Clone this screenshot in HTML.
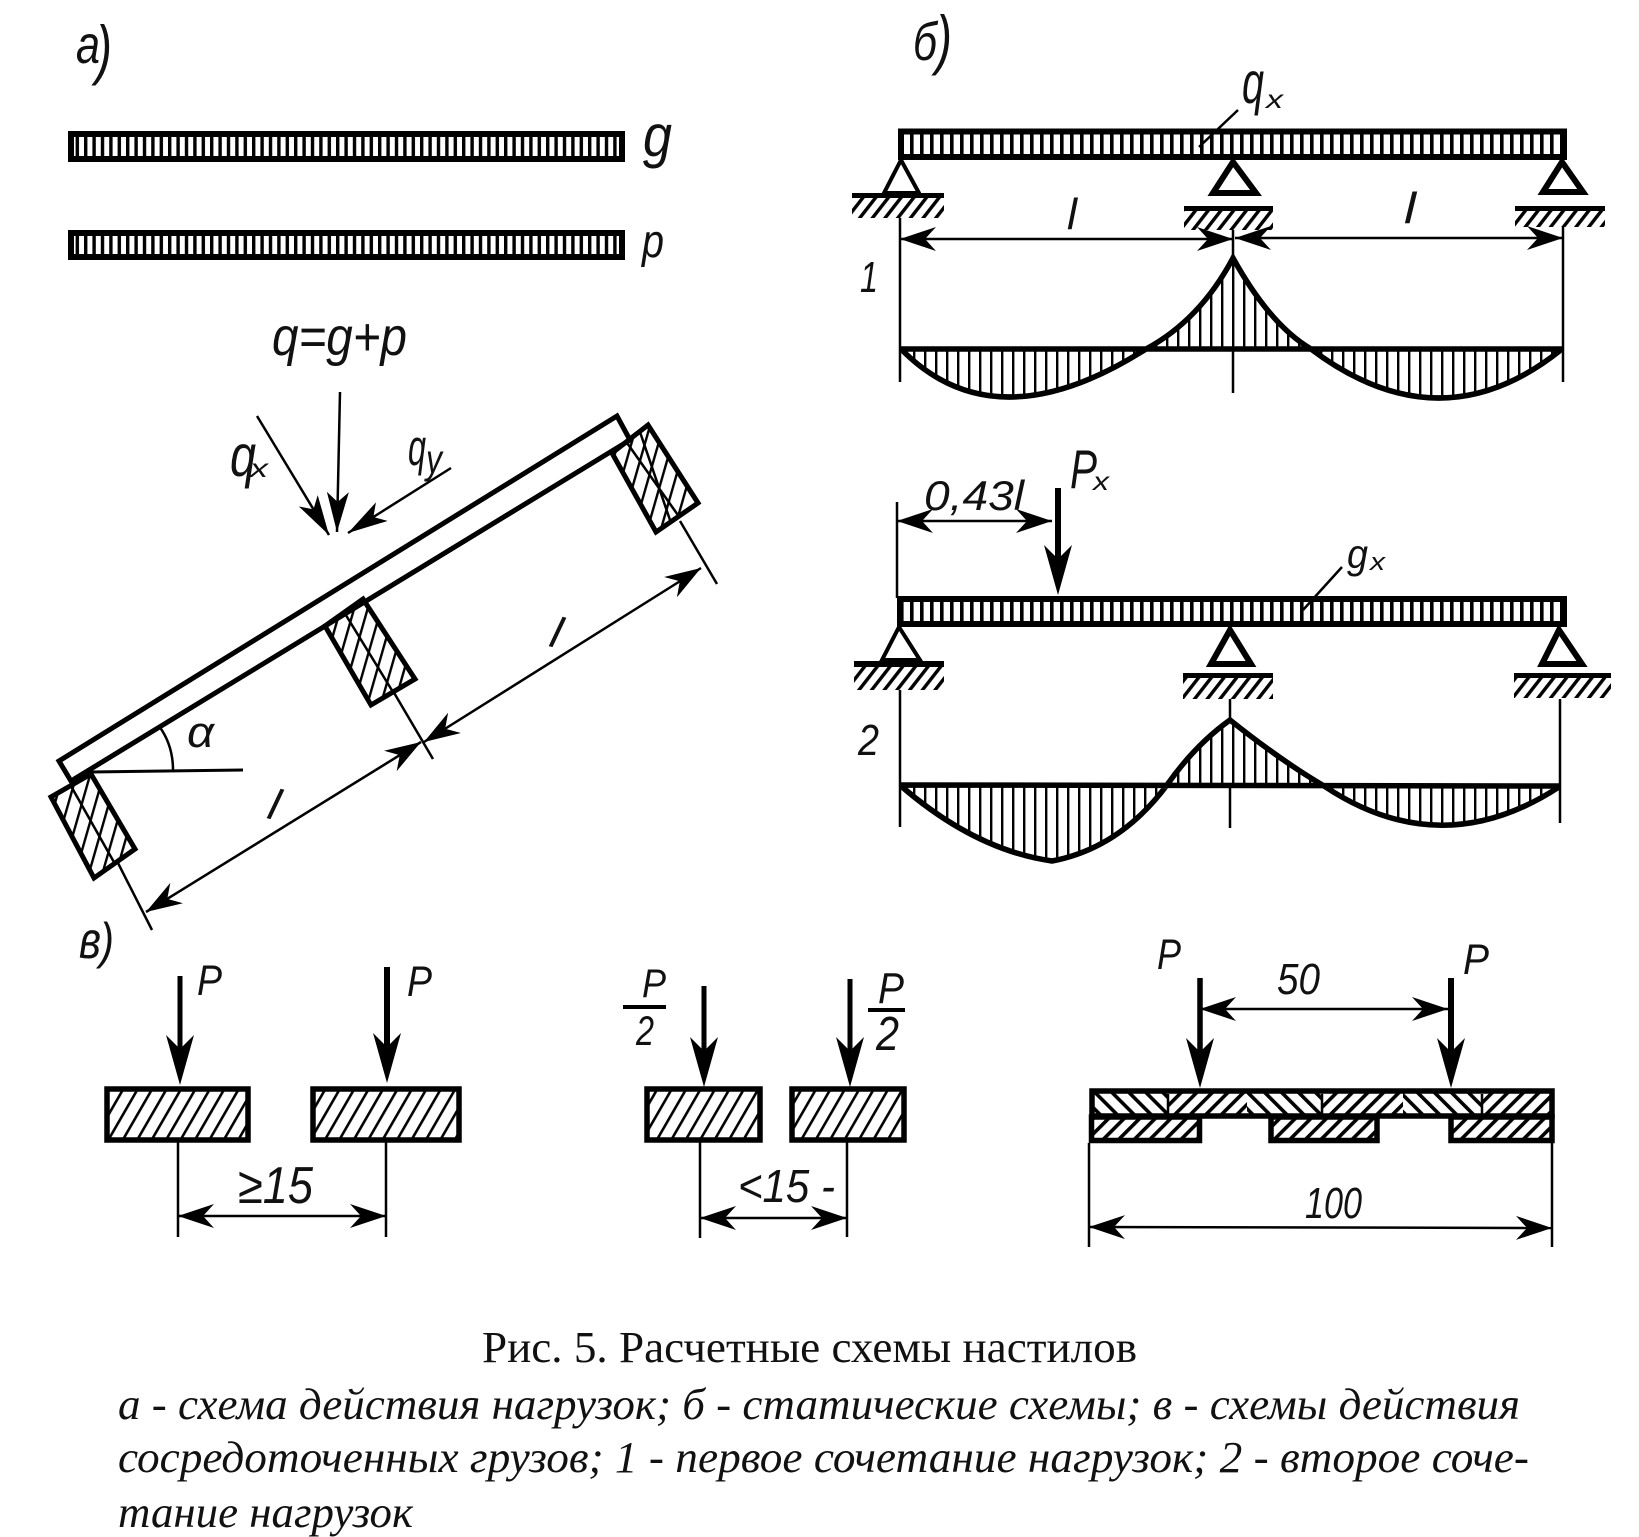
<!DOCTYPE html>
<html lang="ru"><head><meta charset="utf-8"><title>Рис. 5</title>
<style>
html,body{margin:0;padding:0;background:#fff}
svg{display:block}
.h{font-family:"Liberation Sans",sans-serif;font-style:italic;fill:#111}
.c{font-family:"Liberation Serif",serif;font-size:44px;fill:#111}
.l{stroke:#000;fill:none;stroke-width:2.5}
.t{stroke:#000;fill:none;stroke-width:5.5}
.m{stroke:#000;stroke-width:5}
</style></head><body>
<svg width="1639" height="1537" viewBox="0 0 1639 1537" xmlns="http://www.w3.org/2000/svg">
<defs>
<marker id="a" viewBox="0 0 36 24" refX="36" refY="12" markerWidth="36" markerHeight="24" markerUnits="userSpaceOnUse" orient="auto-start-reverse"><path d="M36 12L0 0L11 12L0 24Z"/></marker>
<marker id="b" viewBox="0 0 50 28" refX="30" refY="14" markerWidth="50" markerHeight="28" markerUnits="userSpaceOnUse" orient="auto"><path d="M50 14L0 0L14 14L0 28Z"/></marker>
<marker id="c" viewBox="0 0 40 22" refX="40" refY="11" markerWidth="40" markerHeight="22" markerUnits="userSpaceOnUse" orient="auto"><path d="M40 11L0 0L10 11L0 22Z"/></marker>
<pattern id="t1" width="8.4" height="20" patternUnits="userSpaceOnUse"><rect width="3.4" height="20"/></pattern>
<pattern id="t2" width="10" height="20" patternUnits="userSpaceOnUse"><rect width="3.6" height="20"/></pattern>
<pattern id="v" width="11" height="20" patternUnits="userSpaceOnUse"><rect width="2.4" height="20"/></pattern>
<pattern id="s" width="12.5" height="17" patternUnits="userSpaceOnUse" patternTransform="rotate(30)"><rect width="2.6" height="17"/></pattern>
<pattern id="g" width="10" height="10" patternUnits="userSpaceOnUse" patternTransform="rotate(38)"><rect width="3.4" height="10"/></pattern>
<pattern id="w" width="13" height="13" patternUnits="userSpaceOnUse" patternTransform="rotate(16)"><rect width="2.4" height="13"/></pattern>
<pattern id="f" width="11" height="13" patternUnits="userSpaceOnUse" patternTransform="rotate(45)"><rect width="3.6" height="13"/></pattern>
<pattern id="k" width="12" height="16" patternUnits="userSpaceOnUse" patternTransform="rotate(-45)"><rect width="3.6" height="16"/></pattern>
</defs>
<rect width="1639" height="1537" fill="#fff"/>

<!-- a -->
<text class="h" x="76" y="63" font-size="54" textLength="24" lengthAdjust="spacingAndGlyphs">а</text>
<text class="h" x="96" y="72" font-size="66" textLength="16" lengthAdjust="spacingAndGlyphs">)</text>
<rect x="71" y="134" width="551" height="25" fill="url(#t1)" stroke="#000" stroke-width="6"/>
<rect x="71" y="233" width="551" height="24" fill="url(#t1)" stroke="#000" stroke-width="6"/>
<text class="h" x="643" y="156" font-size="59" textLength="29" lengthAdjust="spacingAndGlyphs">g</text>
<text class="h" x="642" y="257" font-size="47" textLength="22" lengthAdjust="spacingAndGlyphs">p</text>
<text class="h" x="272" y="355" font-size="54" textLength="135" lengthAdjust="spacingAndGlyphs">q=g+p</text>
<text class="h" x="230" y="476" font-size="59" textLength="26" lengthAdjust="spacingAndGlyphs">q</text>
<text class="h" x="250" y="477" font-size="26" textLength="18" lengthAdjust="spacingAndGlyphs">x</text>
<text class="h" x="408" y="465" font-size="51" textLength="18" lengthAdjust="spacingAndGlyphs">q</text>
<text class="h" x="426" y="473" font-size="41" textLength="16" lengthAdjust="spacingAndGlyphs">y</text>
<path class="l" d="M340 392L337 532" marker-end="url(#c)"/>
<path class="l" d="M257 416L329 535" marker-end="url(#c)"/>
<path class="l" d="M451 468L348 533" marker-end="url(#c)"/>

<polygon points="59,761 617,416 630,440 71,781" fill="#fff" stroke="#000" stroke-width="5"/>
<polygon points="648,425 698,503 656,532 612,453" fill="url(#w)" stroke="#000" stroke-width="5"/>
<path class="l" d="M625 440L680 518M640 432L670 520"/>
<polygon points="363,599 415,679 371,705 325,626" fill="url(#w)" stroke="#000" stroke-width="5"/>
<path class="l" d="M344 612L393 692"/>
<polygon points="91,774 135,849 94,878 51,797" fill="url(#w)" stroke="#000" stroke-width="5"/>
<path class="l" d="M71 786L115 864"/>

<path class="l" d="M680 521L717 584M393 691L433 759M118 863L152 930"/>
<path class="l" d="M146 912L421 742" marker-start="url(#a)" marker-end="url(#a)"/>
<path class="l" d="M424 742L701 568" marker-start="url(#a)" marker-end="url(#a)"/>
<path d="M91 772L243 770" stroke="#000" stroke-width="3" fill="none"/>
<path class="l" d="M159 726Q173 745 173 770"/>
<text class="h" x="187" y="747" font-size="44" textLength="27" lengthAdjust="spacingAndGlyphs">α</text>
<text class="h" x="266" y="818" font-size="44" textLength="10" lengthAdjust="spacingAndGlyphs" transform="rotate(14 266 818)">l</text>
<text class="h" x="548" y="646" font-size="44" textLength="10" lengthAdjust="spacingAndGlyphs" transform="rotate(14 548 646)">l</text>

<!-- б scheme 1 -->
<text class="h" x="913" y="60" font-size="54" textLength="24" lengthAdjust="spacingAndGlyphs">б</text>
<text class="h" x="936" y="62" font-size="66" textLength="16" lengthAdjust="spacingAndGlyphs">)</text>
<rect x="901" y="131.5" width="663" height="25.5" fill="url(#t2)" stroke="#000" stroke-width="6"/>
<text class="h" x="1242" y="103" font-size="59" textLength="22" lengthAdjust="spacingAndGlyphs">q</text>
<text class="h" x="1266" y="108" font-size="26" textLength="17" lengthAdjust="spacingAndGlyphs">x</text>
<path class="l" d="M1238 110L1199 147"/>
<polygon points="901,160 884,193 919,193" fill="#fff" stroke="#000" stroke-width="4"/>
<rect x="852" y="197" width="92" height="21" fill="url(#g)"/><rect x="852" y="193" width="92" height="5"/>
<polygon points="1233,162 1213,193 1256,193" fill="#fff" stroke="#000" stroke-width="6"/>
<rect x="1184" y="211" width="89" height="19" fill="url(#g)"/><rect x="1184" y="206" width="89" height="5"/>
<polygon points="1562,162 1543,192 1583,192" fill="#fff" stroke="#000" stroke-width="6"/>
<rect x="1515" y="211" width="90" height="16" fill="url(#g)"/><rect x="1515" y="206" width="90" height="5"/>
<path class="l" d="M900 218V382M1233 230V258M1233 349V393M1563 227V382"/>
<path class="l" d="M900 239L1233 239" marker-start="url(#a)" marker-end="url(#a)"/>
<path class="l" d="M1235 238L1563 238" marker-start="url(#a)" marker-end="url(#a)"/>
<text class="h" x="1067" y="229" font-size="44" textLength="10" lengthAdjust="spacingAndGlyphs">l</text>
<text class="h" x="1404" y="223" font-size="44" textLength="12" lengthAdjust="spacingAndGlyphs">l</text>
<text class="h" x="860" y="292" font-size="44" textLength="18" lengthAdjust="spacingAndGlyphs">1</text>
<path d="M901 349Q995 445 1146 349Z" fill="url(#v)"/>
<path d="M1146 349Q1200 320 1233 258Q1270 325 1311 349Z" fill="url(#v)"/>
<path d="M1311 349Q1441 447 1562 349Z" fill="url(#v)"/>
<path class="t" d="M901 349L1562 349M901 349Q995 445 1146 349Q1200 320 1233 258Q1270 325 1311 349Q1441 447 1562 349"/>

<!-- scheme 2 -->
<rect x="900" y="599" width="664" height="25" fill="url(#t2)" stroke="#000" stroke-width="6"/>
<path class="l" d="M897 502V598"/>
<path class="l" d="M897 521L1052 521" marker-start="url(#a)" marker-end="url(#a)"/>
<path d="M1058 488L1058 575" stroke="#000" stroke-width="6" marker-end="url(#b)" fill="none"/>
<text class="h" x="924" y="510" font-size="42" textLength="100" lengthAdjust="spacingAndGlyphs">0,43l</text>
<text class="h" x="1070" y="488" font-size="55" textLength="27" lengthAdjust="spacingAndGlyphs">P</text>
<text class="h" x="1093" y="490" font-size="26" textLength="16" lengthAdjust="spacingAndGlyphs">x</text>
<text class="h" x="1347" y="568" font-size="41" textLength="21" lengthAdjust="spacingAndGlyphs">g</text>
<text class="h" x="1370" y="570" font-size="24" textLength="15" lengthAdjust="spacingAndGlyphs">x</text>
<path class="l" d="M1342 567L1303 610"/>
<polygon points="899,627 882,660 920,660" fill="#fff" stroke="#000" stroke-width="4"/>
<rect x="854" y="667" width="90" height="23" fill="url(#g)"/><rect x="854" y="661" width="90" height="6"/>
<polygon points="1230,630 1211,664 1251,664" fill="#fff" stroke="#000" stroke-width="6"/>
<rect x="1183" y="678" width="90" height="21" fill="url(#g)"/><rect x="1183" y="673" width="90" height="5"/>
<polygon points="1559,630 1542,664 1582,664" fill="#fff" stroke="#000" stroke-width="6"/>
<rect x="1514" y="678" width="97" height="20" fill="url(#g)"/><rect x="1514" y="673" width="97" height="5"/>
<path class="l" d="M900 690V827M1230 699V720M1230 785V828M1560 699V823"/>
<text class="h" x="858" y="755" font-size="44" textLength="21" lengthAdjust="spacingAndGlyphs">2</text>
<path d="M901 786Q975 850 1052 861Q1120 848 1167 785Z" fill="url(#v)"/>
<path d="M1167 785Q1195 745 1230 720Q1280 760 1324 786Z" fill="url(#v)"/>
<path d="M1324 786Q1441 864 1559 787Z" fill="url(#v)"/>
<path class="t" d="M901 785L1559 786M901 786Q975 850 1052 861Q1120 848 1167 785Q1195 745 1230 720Q1280 760 1324 786Q1441 864 1559 787"/>

<!-- в -->
<text class="h" x="79" y="958" font-size="52" textLength="22" lengthAdjust="spacingAndGlyphs">в</text>
<text class="h" x="100" y="958" font-size="50" textLength="14" lengthAdjust="spacingAndGlyphs">)</text>
<rect x="107" y="1089" width="141" height="51" fill="url(#s)" stroke="#000" stroke-width="5.5"/>
<rect x="313" y="1089" width="146" height="51" fill="url(#s)" stroke="#000" stroke-width="5.5"/>
<rect x="647" y="1089" width="113" height="51" fill="url(#s)" stroke="#000" stroke-width="5.5"/>
<rect x="792" y="1089" width="112" height="51" fill="url(#s)" stroke="#000" stroke-width="5.5"/>
<path d="M180 976L180 1065" stroke="#000" stroke-width="5" marker-end="url(#b)"/>
<path d="M387 967L387 1063" stroke="#000" stroke-width="6" marker-end="url(#b)"/>
<path d="M704 986L704 1067" stroke="#000" stroke-width="5" marker-end="url(#b)"/>
<path d="M850 979L850 1067" stroke="#000" stroke-width="5" marker-end="url(#b)"/>
<text class="h" x="197" y="995" font-size="43" textLength="25" lengthAdjust="spacingAndGlyphs">P</text>
<text class="h" x="407" y="996" font-size="43" textLength="25" lengthAdjust="spacingAndGlyphs">P</text>
<text class="h" x="642" y="997" font-size="40" textLength="24" lengthAdjust="spacingAndGlyphs">P</text>
<rect x="623" y="1005" width="43" height="4"/>
<text class="h" x="636" y="1045" font-size="42" textLength="18" lengthAdjust="spacingAndGlyphs">2</text>
<text class="h" x="878" y="1003" font-size="44" textLength="26" lengthAdjust="spacingAndGlyphs">P</text>
<rect x="868" y="1008" width="37" height="4"/>
<text class="h" x="876" y="1050" font-size="48" textLength="23" lengthAdjust="spacingAndGlyphs">2</text>
<path class="l" d="M178 1142V1237M386 1142V1237M700 1142V1238M847 1142V1237"/>
<path class="l" d="M178 1216L386 1216" marker-start="url(#a)" marker-end="url(#a)"/>
<path class="l" d="M700 1218L847 1218" marker-start="url(#a)" marker-end="url(#a)"/>
<text class="h" x="238" y="1203" font-size="52" textLength="75" lengthAdjust="spacingAndGlyphs">≥15</text>
<text class="h" x="738" y="1202" font-size="46" textLength="97" lengthAdjust="spacingAndGlyphs">&lt;15 -</text>

<!-- plate -->
<rect x="1092" y="1091" width="460" height="25" fill="#fff" stroke="#000" stroke-width="5.5"/>
<rect x="1094" y="1093" width="74" height="21" fill="url(#k)"/>
<rect x="1168" y="1093" width="79" height="21" fill="url(#f)"/>
<rect x="1247" y="1093" width="75" height="21" fill="url(#k)"/>
<rect x="1322" y="1093" width="81" height="21" fill="url(#f)"/>
<rect x="1403" y="1093" width="79" height="21" fill="url(#k)"/>
<rect x="1482" y="1093" width="68" height="21" fill="url(#f)"/>
<path class="l" d="M1168 1094V1114M1322 1094V1114M1482 1094V1114"/>
<rect x="1091.5" y="1117" width="108" height="23.5" fill="url(#f)" stroke="#000" stroke-width="5.5"/>
<rect x="1271" y="1117" width="106" height="23.5" fill="url(#f)" stroke="#000" stroke-width="5.5"/>
<rect x="1451" y="1117" width="101" height="23.5" fill="url(#f)" stroke="#000" stroke-width="5.5"/>
<path d="M1200 978L1200 1068" stroke="#000" stroke-width="5.5" marker-end="url(#b)"/>
<path d="M1451 978L1451 1068" stroke="#000" stroke-width="6" marker-end="url(#b)"/>
<text class="h" x="1157" y="969" font-size="43" textLength="24" lengthAdjust="spacingAndGlyphs">P</text>
<text class="h" x="1463" y="974" font-size="43" textLength="26" lengthAdjust="spacingAndGlyphs">P</text>
<text class="h" x="1277" y="994" font-size="44" textLength="43" lengthAdjust="spacingAndGlyphs">50</text>
<path class="l" d="M1200 1009L1448 1009" marker-start="url(#a)" marker-end="url(#a)"/>
<path class="l" d="M1089 1143V1247M1552 1143V1247"/>
<path class="l" d="M1089 1227L1552 1228" marker-start="url(#a)" marker-end="url(#a)"/>
<text class="h" x="1305" y="1218" font-size="44" textLength="57" lengthAdjust="spacingAndGlyphs">100</text>

<!-- caption -->
<text class="c" x="482" y="1362" textLength="655" lengthAdjust="spacingAndGlyphs">Рис. 5. Расчетные схемы настилов</text>
<text class="c" x="118" y="1419" font-style="italic" textLength="1402" lengthAdjust="spacingAndGlyphs">а - схема действия нагрузок; б - статические схемы; в - схемы действия</text>
<text class="c" x="118" y="1472" font-style="italic" textLength="1411" lengthAdjust="spacingAndGlyphs">сосредоточенных грузов; 1 - первое сочетание нагрузок; 2 - второе соче-</text>
<text class="c" x="118" y="1527" font-style="italic" textLength="295" lengthAdjust="spacingAndGlyphs">тание нагрузок</text>
</svg>
</body></html>
